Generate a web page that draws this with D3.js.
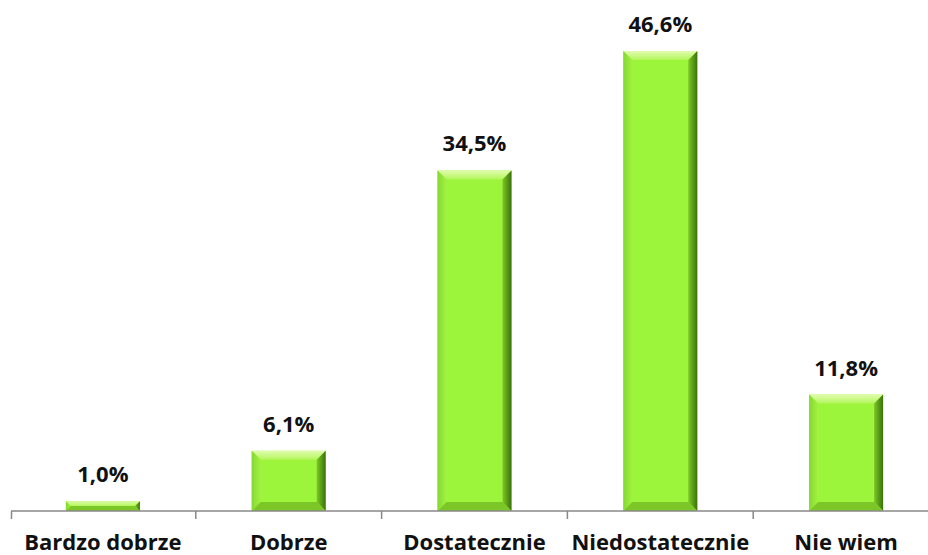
<!DOCTYPE html>
<html><head><meta charset="utf-8">
<script src="https://cdn.jsdelivr.net/npm/d3@7"></script>
<style>body{margin:0;background:#fff}svg{display:block}</style>
</head><body>
<svg id="c" width="928" height="555"></svg>
<script>
const categories = ["Bardzo dobrze","Dobrze","Dostatecznie","Niedostatecznie","Nie wiem"];
const values = [1.0, 6.1, 34.5, 46.6, 11.8];
const valueLabels = ["1,0%","6,1%","34,5%","46,6%","11,8%"];

const svg = d3.select("#c");
const x = d3.scaleBand().domain(categories).range([10, 939]).paddingInner(0).paddingOuter(0);
const y = d3.scaleLinear().domain([0, 50]).range([511, 17.5]);
const barW = 74;
const font = "'Open Sans', sans-serif";

const defs = svg.append("defs");
const gTop = defs.append("linearGradient").attr("id","gTop").attr("x1",0).attr("y1",0).attr("x2",0).attr("y2",1);
gTop.append("stop").attr("offset","0%").attr("stop-color","#e2fcb0");
gTop.append("stop").attr("offset","100%").attr("stop-color","#b2f65a");
const gRight = defs.append("linearGradient").attr("id","gRight").attr("x1",0).attr("y1",0).attr("x2",1).attr("y2",0);
gRight.append("stop").attr("offset","0%").attr("stop-color","#7cc826");
gRight.append("stop").attr("offset","100%").attr("stop-color","#3a720a");
const gLeft = defs.append("linearGradient").attr("id","gLeft").attr("x1",0).attr("y1",0).attr("x2",1).attr("y2",0);
gLeft.append("stop").attr("offset","0%").attr("stop-color","#84d830");
gLeft.append("stop").attr("offset","100%").attr("stop-color","#a2f242");

const bars = svg.append("g").selectAll("g").data(categories.map((c,i)=>({c, v: values[i], l: valueLabels[i]}))).join("g");
bars.each(function(d){
  const g = d3.select(this);
  const x0 = x(d.c) + x.bandwidth()/2 - barW/2, x1 = x0 + barW;
  const y0 = y(d.v), y1 = y(0);
  const h = y1 - y0;
  const b = Math.min(9, h/2);
  const poly = pts => pts.map(p=>p.join(",")).join(" ");
  g.append("rect").attr("x",x0).attr("y",y0).attr("width",barW).attr("height",h).attr("fill","#9df53b");
  g.append("polygon").attr("points",poly([[x0,y0],[x1,y0],[x1-b,y0+b],[x0+b,y0+b]])).attr("fill","url(#gTop)");
  g.append("polygon").attr("points",poly([[x0,y0],[x0+b,y0+b],[x0+b,y1-b],[x0,y1]])).attr("fill","url(#gLeft)");
  g.append("polygon").attr("points",poly([[x1,y0],[x1,y1],[x1-b,y1-b],[x1-b,y0+b]])).attr("fill","url(#gRight)");
  g.append("polygon").attr("points",poly([[x0,y1],[x1,y1],[x1-b,y1-b],[x0+b,y1-b]])).attr("fill","#7cc628");
  g.append("text").attr("x",x0+barW/2).attr("y",y0-19).attr("text-anchor","middle")
    .attr("font-family",font).attr("font-weight","bold").attr("font-size",22).attr("fill","#111").text(d.l);
});

const ax = svg.append("g").attr("transform","translate(0,511)");
ax.append("line").attr("x1",11).attr("x2",928).attr("y1",0).attr("y2",0).attr("stroke","#888").attr("stroke-width",1.5);
const ticks = categories.map(c=>x(c)).concat([x.range()[1]]).map(v=>v<11?11.5:v);
ax.selectAll("line.t").data(ticks).join("line").attr("class","t")
  .attr("x1",d=>d).attr("x2",d=>d).attr("y1",0).attr("y2",8).attr("stroke","#888").attr("stroke-width",1.5);
svg.append("g").selectAll("text").data(categories).join("text")
  .attr("x",d=>x(d)+x.bandwidth()/2).attr("y",550).attr("text-anchor","middle")
  .attr("font-family",font).attr("font-weight","bold").attr("font-size",22).attr("fill","#111").text(d=>d);
</script>
</body></html>
